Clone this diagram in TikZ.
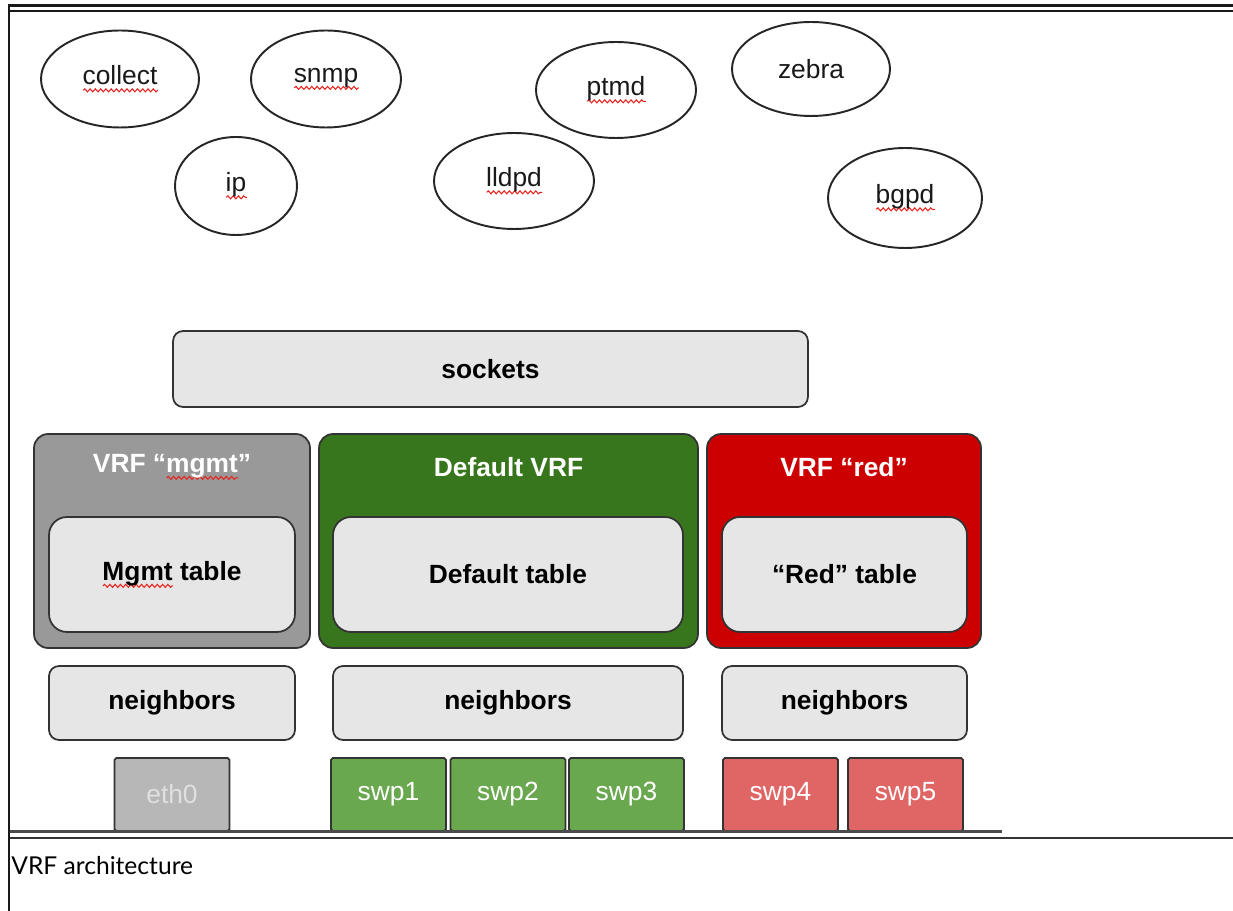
\documentclass[tikz,border=0pt]{standalone}
\usepackage{fontspec}
\setmainfont{Liberation Sans}
\newfontfamily\capfont{Lato}
\usetikzlibrary{shapes.geometric,decorations.pathmorphing}

\definecolor{mgmtgray}{HTML}{999999}
\definecolor{defgreen}{HTML}{38761D}
\definecolor{vrfred}{HTML}{CC0000}
\definecolor{boxgray}{HTML}{E6E6E6}
\definecolor{ethgray}{HTML}{B7B7B7}
\definecolor{swpgreen}{HTML}{6AA84F}
\definecolor{swpred}{HTML}{E06666}
\definecolor{edge}{HTML}{333333}
\definecolor{spellred}{HTML}{E8231E}

% red wavy underline
\newsavebox\spellbox
\newlength\spellwd
\newcommand{\spell}[1]{\sbox\spellbox{#1}\setlength\spellwd{\wd\spellbox}%
  \rlap{\tikz[baseline=0pt]\draw[spellred, sharp corners, line width=0.6pt, decorate,
    decoration={snake, amplitude=0.85pt, segment length=3pt}] (0pt,-3.2pt) -- (\spellwd,-3.2pt);}%
  \usebox\spellbox}

\begin{document}
\begin{tikzpicture}[x=0.02cm, y=-0.02cm, font=\fontsize{15}{18}\selectfont,
      proc/.style={draw=black!85, line width=1.1pt, ellipse, minimum width=3.16cm, minimum height=1.94cm, inner sep=0pt, text=black!90},
      box/.style={draw=edge, line width=1pt, fill=boxgray, rounded corners=0.2cm, font=\fontsize{15}{18}\selectfont\bfseries},
      vrf/.style={draw=edge, line width=1pt, rounded corners=0.28cm, minimum height=4.28cm},
      title/.style={text=white, font=\fontsize{15}{18}\selectfont\bfseries},
      tbl/.style={box, rounded corners=0.36cm, minimum height=2.3cm},
      nbr/.style={box, minimum height=1.48cm},
      port/.style={draw=edge, line width=1pt, rounded corners=1pt, text=white, minimum width=2.3cm, minimum height=1.46cm}]
    \useasboundingbox (0,0) rectangle (1233,911);
    % daemons
    \node[proc] (collect) at (120,79) {\spell{collect}};
    \node[proc, minimum width=3.0cm] (snmp) at (326,79) {\spell{snmp}};
    \node[proc, minimum width=2.44cm, minimum height=1.96cm] (ip) at (236,186) {\spell{ip}};
    \node[proc, minimum width=3.2cm, minimum height=1.92cm] (lldpd) at (514,181) {\spell{lldpd}};
    \node[proc, minimum width=3.2cm, minimum height=1.92cm] (ptmd) at (616,90) {\spell{ptmd}};
    \node[proc, minimum height=1.88cm] (zebra) at (811,69) {zebra};
    \node[proc, minimum width=3.08cm, minimum height=2.0cm] (bgpd) at (905,198) {\spell{bgpd}};
    % sockets
    \node[box, minimum width=12.7cm, minimum height=1.52cm] (sockets) at (490.5,369) {sockets};
    % VRFs
    \node[vrf, fill=mgmtgray, minimum width=5.52cm] (mgmt) at (172,541) {};
    \node[vrf, fill=defgreen, minimum width=7.58cm] (dflt) at (508.5,541) {};
    \node[vrf, fill=vrfred, minimum width=5.48cm] (red) at (844,541) {};
    \node[title] (mgmt-t) at (172,467) {VRF “\spell{mgmt}”};
    \node[title] (dflt-t) at (508.5,467) {Default VRF};
    \node[title] (red-t) at (844,467) {VRF “red”};
    \node[tbl, minimum width=4.92cm] (mgmt-tab) at (172,574.5) {\spell{Mgmt} table};
    \node[tbl, minimum width=7.0cm] (dflt-tab) at (508,574.5) {Default table};
    \node[tbl, minimum width=4.9cm] (red-tab) at (844.5,574.5) {“Red” table};
    \node[nbr, minimum width=4.92cm] (mgmt-nb) at (172,703) {neighbors};
    \node[nbr, minimum width=7.0cm] (dflt-nb) at (508,703) {neighbors};
    \node[nbr, minimum width=4.9cm] (red-nb) at (844.5,703) {neighbors};
    % ports
    \node[port, fill=ethgray, text=white!88!black] (eth0) at (172,794.5) {eth0};
    \foreach \n/\x/\c in {1/388.5/swpgreen, 2/508/swpgreen, 3/626.5/swpgreen, 4/780.5/swpred, 5/905.5/swpred}
      \node[port, fill=\c] (swp\n) at (\x,794.5) {swp\n};
    % frame
    \draw[line width=1.7pt, black!70] (10,831.5) -- (1002,831.5);
    \draw[line width=0.9pt, black!80] (10,838) -- (1233,838);
    \draw[line width=1.9pt, black!90] (8,5.5) -- (1233,5.5);
    \draw[line width=0.9pt, black!90] (10,11) -- (1233,11);
    \draw[line width=1.7pt, black!90] (9,4.5) -- (9,911);
    \node[anchor=west, inner sep=0pt, font=\capfont\fontsize{14}{16}\selectfont] (cap) at (11,866) {VRF architecture};
  \end{tikzpicture}
\end{document}
